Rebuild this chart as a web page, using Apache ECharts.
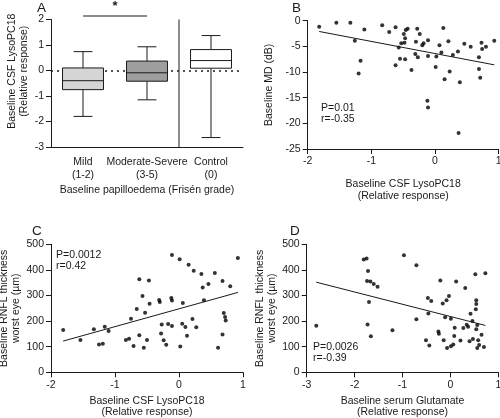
<!DOCTYPE html>
<html><head><meta charset="utf-8">
<script src="https://cdn.jsdelivr.net/npm/echarts@6/dist/echarts.min.js"></script>
<style>html,body{margin:0;padding:0;background:#fff}#c{width:500px;height:418px}</style>
</head><body><div id="c"></div>
<script>
// ---------- Panel A: box plots ----------
const boxCategories = ['Mild\n(1-2)', 'Moderate-Severe\n(3-5)', 'Control\n(0)'];
const boxMin    = [-1.80, -1.15, -2.63];
const boxQ1     = [-0.75, -0.42,  0.09];
const boxMedian = [-0.40, -0.09,  0.39];
const boxQ3     = [ 0.10,  0.37,  0.82];
const boxMax    = [ 0.74,  0.93,  1.37];
const yTicksA = [-3, 2];

// ---------- Panel B ----------
const bX = [-1.82,-1.55,-1.33,-1.26,-1.11,-1.17,-1.20,-0.83,-0.72,-0.62,-0.62,-0.57,-0.55,-0.53,-0.48,-0.49,-0.47,-0.46,-0.43,-0.47,-0.37,-0.31,-0.30,-0.28,-0.27,-0.24,-0.20,-0.18,-0.12,-0.11,-0.11,-0.11,0.01,0.02,0.07,0.10,0.13,0.15,0.21,0.23,0.28,0.36,0.37,0.39,0.46,0.56,0.69,0.69,0.71,0.73,0.74,0.80,0.93];
const bY = [-1.2,-0.4,-0.4,-3.9,-1.7,-7.8,-10.3,-0.9,-2.2,-1.3,-8.7,-5.2,-7.4,-4.4,-4.3,-2.6,-3.4,-1.8,-1.55,-7.5,-9.6,-6.5,-4.1,-1.55,-7.1,-2.6,-4.8,-4.4,-15.6,-16.9,-3.8,-6.9,-9.0,-7.0,-4.8,-6.2,-1.4,-11.4,-4.0,-9.9,-6.7,-6.0,-21.9,-12.0,-4.5,-5.1,-7.1,-9.4,-11.1,-4.3,-5.5,-5.1,-3.9];
const bFitX = [-1.82, 0.93];
const bFitY = [-2.1, -8.6];

// ---------- Panel C ----------
const cX = [-1.81,-1.54,-1.33,-1.25,-1.19,-1.16,-1.10,-0.83,-0.78,-0.75,-0.71,-0.66,-0.62,-0.62,-0.57,-0.55,-0.53,-0.50,-0.47,-0.46,-0.31,-0.30,-0.27,-0.28,-0.24,-0.20,-0.17,-0.11,-0.12,-0.11,-0.11,0.02,0.01,0.05,0.06,0.10,0.125,0.15,0.23,0.21,0.27,0.35,0.37,0.39,0.46,0.56,0.61,0.68,0.68,0.70,0.72,0.73,0.80,0.92];
const cY = [165,126,168,109,112,178,161,126,131,209,103,247,363,145,298,96,233,126,359,268,282,275,187,152,125,108,189,458,290,280,181,101,442,190,271,177,143,420,397,208,176,384,331,281,345,388,96,357,148,232,216,202,336,446];
const cFitX = [-1.81, 0.92];
const cFitY = [122, 312];

// ---------- Panel D ----------
const dX = [-2.80,-1.81,-1.75,-1.72,-1.74,-1.67,-1.60,-1.52,-1.70,-1.73,-1.66,-1.21,-0.97,-0.71,-0.71,-0.51,-0.44,-0.47,-0.40,-0.46,-0.25,-0.24,-0.21,-0.16,-0.14,-0.11,-0.08,-0.07,-0.03,0.01,0.01,0.06,0.09,0.08,0.12,0.21,0.27,0.31,0.34,0.37,0.40,0.42,0.46,0.47,0.52,0.54,0.54,0.53,0.54,0.56,0.58,0.60,0.56,0.65,0.70,0.73];
const dY = [182,441,445,396,357,355,345,334,275,187,141,164,457,418,207,125,105,290,279,230,159,151,359,269,125,215,281,95,298,102,209,109,174,142,355,124,173,329,186,178,121,229,200,130,383,281,267,246,168,185,125,107,95,147,99,387];
const dFitX = [-2.80, 0.73];
const dFitY = [352, 183];

const FONT = "Arial, 'Liberation Sans', sans-serif";
const TXT = '#1a1a1a';
const FS = 10.5;
const boxFill = ['#d6d6d6', '#9e9e9e', '#ffffff'];

function zip(a, b) { return a.map((v, i) => [v, b[i]]); }

function valueAxis(grid, min, max, interval, extra) {
  return Object.assign({
    type: 'value', gridIndex: grid, min: min, max: max, interval: interval,
    splitLine: { show: false },
    axisLine: { show: true, onZero: false, lineStyle: { color: TXT, width: 1 } },
    axisTick: { show: true, length: 5, lineStyle: { color: TXT, width: 1 } },
    axisLabel: { color: TXT, fontSize: FS, fontFamily: FONT, margin: 7 },
    nameLocation: 'middle',
    nameTextStyle: { color: TXT, fontSize: FS, fontFamily: FONT, lineHeight: 12 }
  }, extra || {});
}

const chart = echarts.init(document.getElementById('c'), null, { renderer: 'canvas' });

const option = {
  animation: false,
  backgroundColor: '#fff',
  grid: [
    { left: 51, top: 19.5, width: 192, height: 127.5, containLabel: false, outerBoundsMode: 'none' },
    { left: 307.7, top: 20.7, width: 191, height: 128.3, containLabel: false, outerBoundsMode: 'none' },
    { left: 51, top: 244.3, width: 192, height: 128, containLabel: false, outerBoundsMode: 'none' },
    { left: 306.7, top: 244.3, width: 191.6, height: 128, containLabel: false, outerBoundsMode: 'none' }
  ],
  xAxis: [
    {
      type: 'category', gridIndex: 0, data: boxCategories,
      axisLine: { show: true, onZero: false, lineStyle: { color: TXT, width: 1 } },
      axisTick: { show: false },
      axisLabel: { color: TXT, fontSize: FS, fontFamily: FONT, margin: 9, lineHeight: 13, interval: 0 },
      name: 'Baseline papilloedema (Frisén grade)', nameLocation: 'middle', nameGap: 38,
      nameTextStyle: { color: TXT, fontSize: FS, fontFamily: FONT }
    },
    valueAxis(1, -2, 1, 1, { name: 'Baseline CSF LysoPC18\n(Relative response)', nameGap: 29 }),
    valueAxis(2, -2, 1, 1, { name: 'Baseline CSF LysoPC18\n(Relative response)', nameGap: 23,
      nameTextStyle: { color: TXT, fontSize: FS, fontFamily: FONT, lineHeight: 11.5 } }),
    valueAxis(3, -3, 1, 1, { name: 'Baseline serum Glutamate\n(Relative response)', nameGap: 23,
      nameTextStyle: { color: TXT, fontSize: FS, fontFamily: FONT, lineHeight: 11.5 } })
  ],
  yAxis: [
    valueAxis(0, yTicksA[0], yTicksA[1], 1, {
      name: 'Baseline CSF LysoPC18\n(Relative response)', nameGap: 21,
      nameTextStyle: { color: TXT, fontSize: FS, fontFamily: FONT, lineHeight: 12, padding: [0, 0, 0, 24] }
    }),
    valueAxis(1, -25, 0, 5, { name: 'Baseline MD (dB)', nameGap: 33 }),
    valueAxis(2, 0, 500, 100, { name: 'Baseline RNFL thickness\nworst eye (µm)', nameGap: 21 }),
    valueAxis(3, 0, 500, 100, { name: 'Baseline RNFL thickness\nworst eye (µm)', nameGap: 28 })
  ],
  series: [
    {
      type: 'custom', xAxisIndex: 0, yAxisIndex: 0, z: 3,
      data: boxCategories.map((c, i) => [i, boxMin[i], boxQ1[i], boxMedian[i], boxQ3[i], boxMax[i]]),
      renderItem: function (params, api) {
        const i = api.value(0);
        const band = api.size([1, 0])[0];
        const w = band * 0.64, cap = w * 0.46;
        const pMin = api.coord([i, api.value(1)]);
        const pQ1 = api.coord([i, api.value(2)]);
        const pMed = api.coord([i, api.value(3)]);
        const pQ3 = api.coord([i, api.value(4)]);
        const pMax = api.coord([i, api.value(5)]);
        const x = pMed[0];
        const ls = { stroke: TXT, lineWidth: 1 };
        return {
          type: 'group', children: [
            { type: 'line', shape: { x1: x, y1: pMax[1], x2: x, y2: pQ3[1] }, style: ls },
            { type: 'line', shape: { x1: x, y1: pQ1[1], x2: x, y2: pMin[1] }, style: ls },
            { type: 'line', shape: { x1: x - cap / 2, y1: pMax[1], x2: x + cap / 2, y2: pMax[1] }, style: ls },
            { type: 'line', shape: { x1: x - cap / 2, y1: pMin[1], x2: x + cap / 2, y2: pMin[1] }, style: ls },
            { type: 'rect', shape: { x: x - w / 2, y: pQ3[1], width: w, height: pQ1[1] - pQ3[1] },
              style: { fill: boxFill[params.dataIndex], stroke: TXT, lineWidth: 1 } },
            { type: 'line', shape: { x1: x - w / 2, y1: pMed[1], x2: x + w / 2, y2: pMed[1] }, style: ls }
          ]
        };
      },
      markLine: {
        z: 1, silent: true, symbol: 'none', label: { show: false },
        lineStyle: { color: TXT, type: [2, 4], width: 1.6 },
        data: [{ yAxis: 0 }]
      }
    },
    { type: 'scatter', xAxisIndex: 1, yAxisIndex: 1, data: zip(bX, bY), symbolSize: 4, itemStyle: { color: '#000' } },
    { type: 'line', xAxisIndex: 1, yAxisIndex: 1, data: zip(bFitX, bFitY), symbol: 'none', lineStyle: { color: TXT, width: 1 } },
    { type: 'scatter', xAxisIndex: 2, yAxisIndex: 2, data: zip(cX, cY), symbolSize: 4, itemStyle: { color: '#000' } },
    { type: 'line', xAxisIndex: 2, yAxisIndex: 2, data: zip(cFitX, cFitY), symbol: 'none', lineStyle: { color: TXT, width: 1 } },
    { type: 'scatter', xAxisIndex: 3, yAxisIndex: 3, data: zip(dX, dY), symbolSize: 4, itemStyle: { color: '#000' } },
    { type: 'line', xAxisIndex: 3, yAxisIndex: 3, data: zip(dFitX, dFitY), symbol: 'none', lineStyle: { color: TXT, width: 1 } }
  ]
};
chart.setOption(option);

// annotations computed from the library's coordinate system
const cA0 = chart.convertToPixel({ xAxisIndex: 0, yAxisIndex: 0 }, [0, 0]);
const cA1 = chart.convertToPixel({ xAxisIndex: 0, yAxisIndex: 0 }, [1, 0]);
const cA2 = chart.convertToPixel({ xAxisIndex: 0, yAxisIndex: 0 }, [2, 0]);
const topA = chart.convertToPixel({ xAxisIndex: 0, yAxisIndex: 0 }, [0, yTicksA[1]])[1];
const botA = chart.convertToPixel({ xAxisIndex: 0, yAxisIndex: 0 }, [0, yTicksA[0]])[1];
const sepX = (cA1[0] + cA2[0]) / 2;
const sigY = topA - 3.5;

function txt(left, top, text, size, extra) {
  return Object.assign({
    type: 'text', left: left, top: top, z: 10,
    style: { text: text, fill: TXT, font: (size || FS) + 'px ' + FONT, lineHeight: 11.5 }
  }, extra || {});
}

chart.setOption({
  graphic: [
    { type: 'line', z: 10, shape: { x1: sepX, y1: topA, x2: sepX, y2: botA }, style: { stroke: TXT, lineWidth: 1 } },
    { type: 'line', z: 10, shape: { x1: cA0[0], y1: sigY, x2: cA1[0], y2: sigY }, style: { stroke: TXT, lineWidth: 1 } },
    { type: 'text', z: 10, x: (cA0[0] + cA1[0]) / 2, y: sigY - 3, style: { text: '*', fill: TXT, font: 'bold 13px ' + FONT, align: 'center', verticalAlign: 'bottom' } },
    txt(37, 1, 'A', 13.5),
    txt(292, 1, 'B', 13.5),
    txt(32, 224, 'C', 13.5),
    txt(290, 224, 'D', 13.5),
    txt(321, 102, 'P=0.01\nr=-0.35'),
    txt(56, 249, 'P=0.0012\nr=0.42'),
    txt(313, 341, 'P=0.0026\nr=-0.39')
  ]
});
</script></body></html>
